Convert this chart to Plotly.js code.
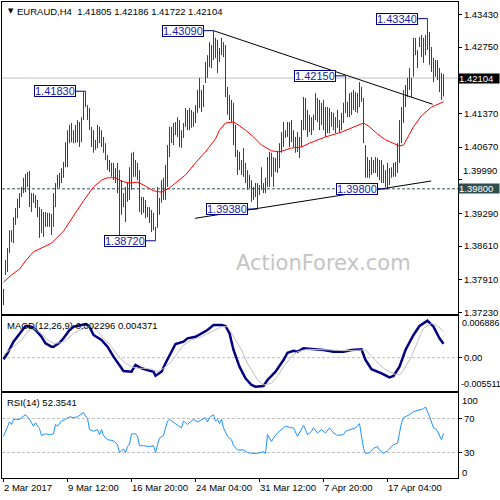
<!DOCTYPE html>
<html><head><meta charset="utf-8">
<script src="https://cdn.plot.ly/plotly-3.0.1.min.js"></script>
<style>html,body{margin:0;padding:0;background:#fff}#chart{width:500px;height:500px}</style>
</head><body><div id="chart"></div>
<script>
// ---------------- data ----------------
const symbol = 'EURAUD,H4';
const lastOHLC = ['1.41805', '1.42186', '1.41722', '1.42104'];

const highs = [1.3772,1.3832,1.3857,1.3894,1.3894,1.3921,1.3940,1.3959,1.3971,1.3984,
1.4003,1.4011,1.4015,1.4017,1.3971,1.3971,1.3967,1.3957,1.3942,1.3938,
1.3932,1.3932,1.3930,1.3930,1.3928,1.3971,1.3992,1.4009,1.4013,1.4023,
1.4036,1.4077,1.4102,1.4113,1.4117,1.4102,1.4113,1.4123,1.4119,1.4129,
1.4181,1.4183,1.4154,1.4148,1.4109,1.4102,1.4082,1.4113,1.4109,1.4102,
1.4088,1.4075,1.4050,1.4040,1.4034,1.4034,1.4023,1.4034,1.4019,1.3998,
1.3971,1.3984,1.3992,1.4025,1.4055,1.4057,1.4040,1.4034,1.4019,1.3963,
1.3963,1.3957,1.3942,1.3942,1.3936,1.3930,1.3901,1.3984,1.3961,1.3998,
1.4003,1.4030,1.4071,1.4109,1.4109,1.4117,1.4119,1.4129,1.4123,1.4102,
1.4117,1.4148,1.4144,1.4148,1.4144,1.4140,1.4154,1.4186,1.4211,1.4186,
1.4196,1.4244,1.4258,1.4285,1.4279,1.4309,1.4294,1.4290,1.4273,1.4294,
1.4285,1.4279,1.4192,1.4175,1.4165,1.4159,1.4113,1.4061,1.4057,1.4040,
1.4065,1.4034,1.4019,1.4009,1.3998,1.3984,1.3992,1.3992,1.3988,1.4025,
1.3992,1.4003,1.4046,1.4057,1.4055,1.4046,1.4044,1.4057,1.4075,1.4098,
1.4119,1.4102,1.4119,1.4119,1.4123,1.4102,1.4088,1.4098,1.4088,1.4123,
1.4171,1.4169,1.4144,1.4134,1.4129,1.4134,1.4179,1.4169,1.4165,1.4159,
1.4165,1.4150,1.4150,1.4148,1.4140,1.4138,1.4129,1.4144,1.4123,1.4138,
1.4159,1.4215,1.4161,1.4179,1.4181,1.4186,1.4181,1.4179,1.4202,1.4192,
1.4169,1.4071,1.4046,1.4040,1.4046,1.4040,1.4046,1.4044,1.4040,1.4040,
1.4030,1.4019,1.4034,1.4023,1.4025,1.4034,1.4036,1.4075,1.4123,1.4150,
1.4186,1.4196,1.4211,1.4231,1.4211,1.4294,1.4294,1.4269,1.4296,1.4300,
1.4294,1.4300,1.4334,1.4306,1.4275,1.4252,1.4248,1.4248,1.4231,1.4221,
1.42186];

const lows = [1.3738,1.3801,1.3807,1.3847,1.3869,1.3867,1.3905,1.3919,1.3940,1.3963,
1.3971,1.3973,1.3984,1.3942,1.3932,1.3951,1.3940,1.3921,1.3878,1.3888,
1.3880,1.3901,1.3901,1.3901,1.3884,1.3901,1.3942,1.3982,1.3982,1.3992,
1.4003,1.4025,1.4025,1.4075,1.4077,1.4075,1.4075,1.4077,1.4067,1.4077,
1.4123,1.4150,1.4123,1.4102,1.4067,1.4055,1.4061,1.4065,1.4075,1.4067,
1.4055,1.4040,1.4019,1.4015,1.4005,1.3998,1.3992,1.3971,1.3884,1.3926,
1.3942,1.3911,1.3953,1.3957,1.3978,1.4005,1.4005,1.3998,1.3932,1.3926,
1.3930,1.3919,1.3921,1.3909,1.3890,1.3894,1.3872,1.3899,1.3926,1.3951,
1.3957,1.3957,1.3984,1.4046,1.4075,1.4071,1.4092,1.4088,1.4067,1.4065,
1.4086,1.4109,1.4102,1.4102,1.4107,1.4109,1.4117,1.4138,1.4148,1.4140,
1.4150,1.4200,1.4211,1.4233,1.4231,1.4248,1.4252,1.4221,1.4244,1.4258,
1.4254,1.4171,1.4134,1.4123,1.4119,1.4071,1.4046,1.4009,1.4019,1.4009,
1.4005,1.3992,1.3978,1.3982,1.3953,1.3957,1.3963,1.3938,1.3967,1.3978,
1.3971,1.3971,1.3984,1.3984,1.4005,1.3984,1.4015,1.4013,1.4023,1.4055,
1.4067,1.4086,1.4088,1.4067,1.4077,1.4067,1.4055,1.4057,1.4044,1.4067,
1.4102,1.4102,1.4088,1.4098,1.4092,1.4102,1.4123,1.4119,1.4102,1.4113,
1.4102,1.4088,1.4096,1.4096,1.4109,1.4102,1.4096,1.4107,1.4098,1.4102,
1.4117,1.4138,1.4129,1.4129,1.4134,1.4144,1.4140,1.4138,1.4150,1.4161,
1.4075,1.4003,1.4003,1.4003,1.4009,1.4013,1.4013,1.4005,1.3998,1.3992,
1.3992,1.3984,1.3980,1.3988,1.4003,1.4005,1.4005,1.4013,1.4034,1.4075,
1.4117,1.4150,1.4171,1.4186,1.4171,1.4213,1.4258,1.4231,1.4275,1.4254,
1.4242,1.4258,1.4269,1.4238,1.4223,1.4202,1.4213,1.4206,1.4181,1.4165,
1.41722];

const maIdx = [0,4,8,11,15,20,24,30,35,40,45,49,52,56,59,63,67,70,75,79,83,87,91,96,101,106,108,111,115,118,121,125,129,134,138,144,149,153,161,169,174,180,183,187,191,195,198,200,202,205,209,214,220];
const maVal = [1.3786,1.3801,1.3813,1.3830,1.3849,1.3859,1.3867,1.3892,1.3924,1.3955,1.3984,1.3998,1.4003,1.4003,1.3996,1.3992,1.3994,1.3988,1.3976,1.3973,1.3982,1.3996,1.4009,1.4034,1.4057,1.4084,1.4102,1.4117,1.4119,1.4111,1.4102,1.4088,1.4071,1.4059,1.4057,1.4065,1.4067,1.4075,1.4088,1.4098,1.4107,1.4117,1.4109,1.4094,1.4082,1.4075,1.4069,1.4071,1.4086,1.4109,1.4132,1.4150,1.4161];

const macdIdx = [0,2,5,9,11,14,16,19,21,24,25,28,30,33,35,39,41,43,45,49,52,55,58,60,64,66,69,72,75,76,79,81,84,86,90,92,96,99,102,105,109,111,113,115,118,121,124,126,130,132,134,136,140,142,145,147,150,155,160,165,170,174,179,181,184,189,193,195,198,201,205,208,212,215,218,220];
const macdVal = [-0.00027,0.00072,0.00264,0.00429,0.00523,0.00512,0.00457,0.00346,0.00237,0.00181,0.00181,0.00247,0.00320,0.00457,0.00512,0.00540,0.00556,0.00512,0.00375,0.00292,0.00181,0.00016,-0.00121,-0.00220,-0.00232,-0.00121,-0.00176,-0.00204,-0.00232,-0.00298,-0.00232,-0.00093,0.00099,0.00226,0.00264,0.00320,0.00346,0.00403,0.00457,0.00540,0.00540,0.00523,0.00403,0.00127,-0.00149,-0.00341,-0.00452,-0.00480,-0.00468,-0.00369,-0.00303,-0.00232,-0.00039,0.00082,0.00115,0.00099,0.00155,0.00143,0.00127,0.00099,0.00099,0.00127,0.00138,-0.00039,-0.00192,-0.00258,-0.00325,-0.00303,-0.00149,0.00127,0.00375,0.00523,0.00611,0.00512,0.00320,0.002296];

const sigIdx = [0,5,9,12,15,19,22,25,29,32,35,39,42,45,47,50,54,57,60,64,67,70,74,77,80,84,87,90,94,99,104,109,112,115,119,122,127,130,134,137,140,144,147,152,157,164,170,177,181,185,190,195,198,200,204,207,210,214,217,220];
const sigVal = [0.00044,0.00181,0.00292,0.00429,0.00485,0.00403,0.00292,0.00237,0.00247,0.00304,0.00403,0.00469,0.00512,0.00512,0.00429,0.00320,0.00181,0.00044,-0.00066,-0.00149,-0.00176,-0.00176,-0.00192,-0.00232,-0.00176,-0.00066,0.00072,0.00209,0.00292,0.00346,0.00429,0.00512,0.00512,0.00346,0.00127,-0.00093,-0.00369,-0.00452,-0.00424,-0.00314,-0.00149,0.00016,0.00099,0.00138,0.00138,0.00127,0.00115,0.00127,0.00127,-0.00011,-0.00176,-0.00270,-0.00287,-0.00204,0.00016,0.00264,0.00485,0.00568,0.00523,0.004371];

const rsiIdx = [0,2,3,4,5,8,10,11,13,15,16,18,19,21,23,25,26,27,29,31,33,35,37,40,41,42,43,45,47,48,49,50,52,55,57,58,60,61,62,63,64,66,67,68,70,73,75,76,77,78,80,82,83,85,86,87,89,90,92,93,95,97,99,101,102,103,105,106,107,108,109,110,112,114,115,117,120,122,124,127,130,131,132,134,135,137,140,141,144,145,147,149,150,152,154,155,157,159,161,163,165,167,170,171,174,176,178,180,181,183,185,187,188,190,192,195,197,198,199,200,203,205,208,210,211,213,215,216,217,219,220];
const rsiVal = [49,59,66,63,69,69,72,74.5,69,61,65,58,50,52,51,52,63,61,67,69,72,71,72,77,73,70,57,55,57,51,57,50,45,44,39,30,34,30,37,40,52,52,49,38,38,37,38,30,39,47,50,67,69,65,64,62,59,67,63,65,69,66,69,71,66,71,74.5,67,69,64,69,59,49,45,38,33,33,30,29,29,31,29,51,43,47,53,59,61,59,59,49,57,62,51,55,59,53,57,53,59,53,50,51,55,57,59,64,35,29,29.5,35,37,33,29,32,39,41,55,65,71,74.5,78,80,81.5,83.5,72.5,59,58,55,45,52.35];

const priceTicks = [1.43430,1.42750,1.41370,1.40670,1.39990,1.39290,1.38610,1.37910,1.37230];
const lastPrice = 1.42104;
const levelPrice = 1.39800;
const swingBars   = [41, 105, 171, 212, 76, 127, 192];
const swingPrices = [1.41830, 1.43090, 1.42150, 1.43340, 1.38720, 1.39380, 1.39800];
const trendDownBars = [105, 214.6],  trendDownPrices = [1.43090, 1.41559];
const trendUpBars   = [95.75, 213.85], trendUpPrices = [1.39187, 1.39963];
const dateTickBars = [0,32,64,96,128,160,192];
const dateTickLabels = ['2 Mar 2017','9 Mar 12:00','16 Mar 20:00','24 Mar 04:00','31 Mar 12:00','7 Apr 20:00','17 Apr 04:00'];
const macdName = 'MACD(12,26,9)', macdLast = ['0.002296','0.004371'];
const macdMax = 0.006886, macdMin = -0.005511;
const rsiName = 'RSI(14)', rsiLast = '52.3541';
const rsiLevels = [70, 30];
const watermark = 'ActionForex.com';

// ---------------- build ----------------
const F = 'Liberation Sans, Arial, sans-serif';
const NAVY = '#000080';
const barX = [], barY = [];
highs.forEach((h, i) => { barX.push(i, i, null); barY.push(lows[i], h, null); });

const traces = [
  {type:'scatter', mode:'lines', x:barX, y:barY, xaxis:'x', yaxis:'y',
   line:{color:'#1f4b5e', width:1}, hoverinfo:'skip', connectgaps:false},
  {type:'scatter', mode:'lines', x:maIdx, y:maVal, xaxis:'x', yaxis:'y',
   line:{color:'#ff0000', width:1}, hoverinfo:'skip'},
  {type:'scatter', mode:'lines', x:trendDownBars, y:trendDownPrices, xaxis:'x', yaxis:'y',
   line:{color:'#000000', width:1}, hoverinfo:'skip'},
  {type:'scatter', mode:'lines', x:trendUpBars, y:trendUpPrices, xaxis:'x', yaxis:'y',
   line:{color:'#000000', width:1}, hoverinfo:'skip'},
  {type:'scatter', mode:'lines', x:macdIdx, y:macdVal, xaxis:'x2', yaxis:'y2',
   line:{color:NAVY, width:2.5}, hoverinfo:'skip'},
  {type:'scatter', mode:'lines', x:sigIdx, y:sigVal, xaxis:'x2', yaxis:'y2',
   line:{color:'#c0c0c0', width:1}, hoverinfo:'skip'},
  {type:'scatter', mode:'lines', x:rsiIdx, y:rsiVal, xaxis:'x3', yaxis:'y3',
   line:{color:'#1e90ff', width:1}, hoverinfo:'skip'}
];

const shapes = [
  {type:'line', xref:'x domain', x0:0, x1:1, yref:'y', y0:lastPrice, y1:lastPrice,
   line:{color:'#c0c0c0', width:1}, layer:'below'},
  {type:'line', xref:'x domain', x0:0, x1:1, yref:'y', y0:levelPrice, y1:levelPrice,
   line:{color:'#2f4f4f', width:1, dash:'3px,2px'}, layer:'below'},
  {type:'line', xref:'x2 domain', x0:0, x1:1, yref:'y2', y0:0, y1:0,
   line:{color:'#c0c0c0', width:1, dash:'3px,2px'}, layer:'below'}
];
rsiLevels.forEach(v => shapes.push({type:'line', xref:'x3 domain', x0:0, x1:1, yref:'y3', y0:v, y1:v,
   line:{color:'#c0c0c0', width:1, dash:'3px,2px'}, layer:'below'}));
swingBars.forEach((b, k) => shapes.push({type:'line', xref:'x', xsizemode:'pixel', xanchor:b, x0:-10, x1:0,
   yref:'y', y0:swingPrices[k], y1:swingPrices[k], line:{color:NAVY, width:1}}));

const ann = [];
ann.push({xref:'paper', yref:'paper', x:0, y:1, xanchor:'left', yanchor:'middle', xshift:4, yshift:-9,
  text:'▼', showarrow:false, font:{family:'DejaVu Sans', size:7, color:'#000'}});
ann.push({xref:'paper', yref:'paper', x:0, y:1, xanchor:'left', yanchor:'middle', xshift:14, yshift:-9,
  text: symbol + '\u00a0\u00a0' + lastOHLC.join(' '), showarrow:false, borderpad:0,
  font:{family:F, size:9.5, color:'#000'}});
ann.push({xref:'paper', yref:'paper', x:(323-2)/456, y:1-(263-2)/476, xanchor:'center', yanchor:'middle',
  text:watermark, showarrow:false, font:{family:'DejaVu Sans', size:21, color:'#c4c4c4'}});
swingBars.forEach((b, k) => ann.push({xref:'x', yref:'y', x:b, y:swingPrices[k], xanchor:'right', yanchor:'middle',
  xshift:-10, text:swingPrices[k].toFixed(5), showarrow:false, bgcolor:'#ffffff', bordercolor:NAVY,
  borderwidth:1, borderpad:0, height:10, font:{family:F, size:11, color:'#1a1aa8'}}));

// price scale: labels that would collide with the level box are lifted above it (as MT4 does)
const liftTick = v => Math.abs(v - levelPrice) < 0.0025;
priceTicks.filter(liftTick).forEach(v => ann.push({xref:'paper', yref:'y', x:1, y:v, xanchor:'left',
  yanchor:'middle', xshift:4, yshift:9, text:v.toFixed(5), showarrow:false, borderpad:0,
  font:{family:F, size:9.5, color:'#000'}}));

ann.push({xref:'paper', yref:'y', x:1, y:lastPrice, xanchor:'left', yanchor:'middle', xshift:0,
  text:lastPrice.toFixed(5), showarrow:false, bgcolor:'#000000', borderpad:0, width:40, height:9, align:'left',
  font:{family:F, size:9.5, color:'#ffffff'}});
ann.push({xref:'paper', yref:'y', x:1, y:levelPrice, xanchor:'left', yanchor:'middle', xshift:0,
  text:levelPrice.toFixed(5), showarrow:false, bgcolor:'#2f4f4f', borderpad:0, width:40, height:9, align:'left',
  font:{family:F, size:9.5, color:'#ffffff'}});
ann.push({xref:'paper', yref:'y2 domain', x:0, y:1, xanchor:'left', yanchor:'top', xshift:4, yshift:-3,
  text: macdName + ' ' + macdLast.join(' '), showarrow:false, borderpad:0, font:{family:F, size:9.5, color:'#000'}});
ann.push({xref:'paper', yref:'y3 domain', x:0, y:1, xanchor:'left', yanchor:'top', xshift:4, yshift:-3,
  text: rsiName + ' ' + rsiLast, showarrow:false, borderpad:0, font:{family:F, size:9.5, color:'#000'}});
ann.push({xref:'paper', yref:'y2', x:1, y:macdMax, xanchor:'left', yanchor:'middle', xshift:3, yshift:-7,
  text: macdMax.toFixed(6), showarrow:false, borderpad:0, font:{family:F, size:9, color:'#000'}});
ann.push({xref:'paper', yref:'y2', x:1, y:macdMin, xanchor:'left', yanchor:'middle', xshift:2, yshift:7,
  text: macdMin.toFixed(6), showarrow:false, borderpad:0, font:{family:F, size:9, color:'#000'}});
ann.push({xref:'paper', yref:'y3', x:1, y:100, xanchor:'left', yanchor:'middle', xshift:3, yshift:-7,
  text:'100', showarrow:false, borderpad:0, font:{family:F, size:9.5, color:'#000'}});
ann.push({xref:'paper', yref:'y3', x:1, y:0, xanchor:'left', yanchor:'middle', xshift:3, yshift:6,
  text:'0', showarrow:false, borderpad:0, font:{family:F, size:9.5, color:'#000'}});
dateTickBars.forEach((b, k) => ann.push({xref:'x3', yref:'paper', x:b, y:0, xanchor:'left', yanchor:'top',
  xshift:-1, yshift:-3, text:dateTickLabels[k], showarrow:false, borderpad:0, font:{family:F, size:9.5, color:'#000'}}));

const xBase = {range:[-0.75, 227.25], showgrid:false, zeroline:false, showline:true, mirror:true,
  linecolor:'#000', linewidth:1, fixedrange:true, showticklabels:false, ticks:''};
const yBase = {side:'right', showgrid:false, zeroline:false, showline:true, mirror:true, linecolor:'#000',
  linewidth:1, ticks:'outside', ticklen:3, tickcolor:'#000', fixedrange:true,
  tickfont:{family:F, size:9.5, color:'#000'}};

const layout = {
  width:500, height:500, margin:{l:2, r:42, t:2, b:22},
  paper_bgcolor:'#ffffff', plot_bgcolor:'#ffffff', showlegend:false, hovermode:false,
  font:{family:F, size:9.5, color:'#000'},
  xaxis: Object.assign({}, xBase, {anchor:'y', domain:[0,1]}),
  xaxis2: Object.assign({}, xBase, {anchor:'y2', domain:[0,1], matches:'x'}),
  xaxis3: Object.assign({}, xBase, {anchor:'y3', domain:[0,1], matches:'x', ticks:'outside', ticklen:3,
    tickcolor:'#000', tickmode:'array', tickvals:dateTickBars}),
  yaxis: Object.assign({}, yBase, {anchor:'x', domain:[0.344538, 1], range:[1.37197, 1.43686],
    tickmode:'array', tickvals:priceTicks, ticktext:priceTicks.map(v => liftTick(v) ? '' : v.toFixed(5))}),
  yaxis2: Object.assign({}, yBase, {anchor:'x2', domain:[0.182773, 0.340336], range:[macdMin, macdMax],
    tickmode:'array', tickvals:[0], ticktext:['0.00']}),
  yaxis3: Object.assign({}, yBase, {anchor:'x3', domain:[0, 0.178571], range:[0, 100],
    tickmode:'array', tickvals:rsiLevels, ticktext:rsiLevels.map(String)}),
  shapes: shapes,
  annotations: ann
};

Plotly.newPlot('chart', traces, layout, {staticPlot:true, displayModeBar:false});
</script>
</body></html>
